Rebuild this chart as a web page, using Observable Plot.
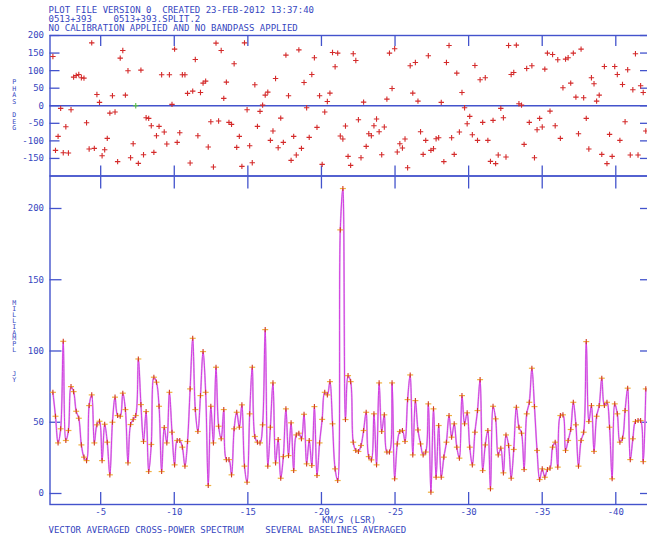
<!DOCTYPE html>
<html><head><meta charset="utf-8">
<script src="https://cdn.jsdelivr.net/npm/d3@7"></script>
<script src="https://cdn.jsdelivr.net/npm/@observablehq/plot@0.6"></script>
<style>
html,body{margin:0;padding:0;background:#fff;overflow:hidden;}
#wrap{position:relative;width:647px;height:538px;overflow:hidden;font-family:"DejaVu Sans Mono",monospace;color:#3646c0;}
.t{position:absolute;font-size:9px;white-space:pre;line-height:9px;}
.v{position:absolute;font-size:6.6px;line-height:8px;white-space:pre;writing-mode:vertical-lr;text-orientation:upright;}
#wrap svg{position:absolute;left:0;}
</style></head><body><div id="wrap"></div>
<script>
// ---- text ----
const headerLines = [
  "PLOT FILE VERSION 0  CREATED 23-FEB-2012 13:37:40",
  "0513+393    0513+393.SPLIT.2",
  "NO CALIBRATION APPLIED AND NO BANDPASS APPLIED"
];
const footerLine = "VECTOR AVERAGED CROSS-POWER SPECTRUM    SEVERAL BASELINES AVERAGED";
const xAxisTitle = "KM/S (LSR)";
const phaseTitle = "PHAS DEG";
const ampTitle = "MILLIAMPL   JY";

// ---- axes ----
const velocityTicks = [-5, -10, -15, -20, -25, -30, -35, -40];
const phaseTicks = [200, 150, 100, 50, 0, -50, -100, -150];
const ampTicks = [0, 50, 100, 150, 200];
const velocityExtent = [-1.556, -42.29];
const phaseExtent = [-200, 200];
const ampExtent = [-7.72, 222.8];

// ---- channels ----
const CHANNEL0_VELOCITY = -1.753;   // km/s of first channel
const CHANNEL_WIDTH = -0.17592;     // km/s per channel

// amplitude per channel (milli-Jy)
const amplitude = [
71.0,54.2,35.5,45.4,106.8,37.2,44.2,75.0,71.5,57.7,
52.8,34.1,25.5,23.1,61.7,69.2,35.5,48.2,50.7,23.1,
48.6,36.0,13.1,50.0,67.6,54.7,54.2,70.4,58.9,21.5,
48.4,51.9,54.7,94.4,62.4,36.5,57.5,15.4,34.4,81.6,
78.1,61.2,15.4,46.3,35.5,71.0,43.0,20.1,37.2,37.2,
32.5,19.2,36.5,73.4,108.9,58.9,43.5,68.7,99.6,71.0,
5.6,61.2,35.5,88.6,47.2,38.4,58.9,23.8,23.8,13.1,
45.4,57.0,46.5,62.2,19.2,7.9,
55.9,88.6,40.0,36.0,35.5,48.2,115.0,19.2,46.5,77.6,
21.5,37.9,10.7,25.9,59.4,26.6,49.6,16.1,41.1,42.3,
38.4,55.6,20.8,37.2,19.6,61.0,12.6,35.5,52.0,71.0,
69.2,78.5,48.9,17.3,9.1,185,214,51.9,82.7,78.5,
36.0,30.2,29.5,33.7,44.2,57.0,25.9,23.6,55.9,20.1,
77.6,43.5,55.2,29.1,29.1,77.6,10.3,34.8,43.5,44.2,
36.5,65.9,83.2,27.1,65.2,44.6,34.8,27.1,29.1,62.9,
0.9,59.4,11.4,47.7,11.4,25.5,
36.0,54.7,39.5,48.9,32.5,24.8,68.7,48.9,56.6,32.5,
20.1,43.0,58.2,79.9,16.1,34.1,44.2,3.3,61.2,52.4,
27.1,31.8,14.5,41.1,33.7,10.7,30.9,60.5,46.5,42.3,
16.8,55.9,64.0,87.9,61.0,30.2,9.8,17.3,11.4,16.8,
17.8,32.5,36.0,18.5,54.7,55.2,30.2,37.2,44.9,64.0,
48.2,19.2,37.2,43.0,106.6,50.5,61.7,29.5,54.2,61.7,
80.9,61.7,64.0,46.5,10.3,62.9,55.9,36.0,38.8,58.2,
73.9,23.8,38.4,50.5,51.2,51.2,22.4,73.4
];

// phase per channel (degrees); 0 = blanked channel
const phase = [
140.3,-127,-87.2,-7.6,-133.6,-59.7,-134.6,-11.4,81.5,86.3,
89.1,79.6,78.7,-48.3,-123.2,179,-121.3,32.2,9.5,-142.2,
-125.1,-92.9,-20.9,28.4,-18.0,-159.2,135.5,157.3,30.3,99.5,
-147.9,-108.1,0,-164.0,101.4,-139.3,-34.1,-36.0,-56.9,-132.7,
-85.3,-58.8,88.2,-74.9,-109.0,88.2,3.8,161.1,-104.3,-76.8,
88.2,88.2,35.1,-163.0,41.7,131.8,-85.3,37.9,64.5,70.1,
-117.5,-45.5,-174.4,178.2,-43.6,157.3,
20.9,67.3,-47.4,-53.1,119.4,-118.5,-87.2,-172.5,179,-11.4,
-113.7,-162.1,59.7,-58.8,-16.1,1.9,30.3,38.9,-98.6,-72.0,
77.7,-119.4,-35.1,-104.3,144.1,28.4,-155.5,-87.2,-140.3,159.2,
-121.3,66.4,-5.7,-90.0,89.1,136.5,-61.6,28.4,-166.8,-18.0,
12.3,36.0,151.7,110.9,149.8,-86.3,-94.8,-57.8,-144.1,-169.7,
147.9,128.9,-39.8,-147.9,10.4,-115.6,-79.6,-85.3,-56.9,-37.9,
-73.9,-139.3,-60.7,19.0,149.8,49.3,162.1,-131.8,-108.1,-120.4,
-94.8,-176.3,113.7,36.0,123.2,13.3,-73.9,
-138.4,-98.6,142.2,-127.0,-122.3,-93.8,-91.0,9.5,-159.2,123.2,
171.6,-91.0,-138.4,92.9,-74.9,37.9,-5.7,-51.2,-30.3,-82.5,
114.7,-98.6,73.9,-47.4,79.6,-98.6,-158.3,-41.7,-164.9,-140.3,
-7.6,-34.1,-146.0,171.6,89.1,94.8,172.5,5.7,1.9,-110.0,
106.2,-47.4,113.7,-147.9,-68.2,-36.0,-60.7,104.3,149.8,-15.2,
146.0,-56.9,130.8,-92.9,51.2,132.7,136.5,64.5,149.8,24.6,
-79.6,161.1,22.7,-36.0,-123.2,79.6,62.6,13.3,30.3,-138.4,
111.8,-164.9,-81.5,-144.1,111.8,89.1,-98.6,60.7,-45.5,102.4,
-140.3,45.5,147.9,-140.3,56.9,37.9,-72.0
];

const rows = amplitude.map((a, i) => ({
  v: CHANNEL0_VELOCITY + i * CHANNEL_WIDTH, amp: a, phase: phase[i]
}));

// ---- styles ----
const AXIS = "#4353cc", TEXT = "#3646c0", RED = "#d42a2a", GREEN = "#58c040";
const svgStyle = {background:"transparent", fontFamily:"DejaVu Sans Mono", fontSize:"9px", maxWidth:"none", overflow:"visible"};
const plusSym = {draw(c, s){ const r = Math.sqrt(s/Math.PI); c.moveTo(-r,0); c.lineTo(r,0); c.moveTo(0,-r); c.lineTo(0,r); }};
const hSym = {draw(c, s){ const r = Math.sqrt(s/Math.PI); c.moveTo(-r,0); c.lineTo(r,0); }};
const vSym = {draw(c, s){ const r = Math.sqrt(s/Math.PI)*0.85; c.moveTo(0,-r); c.lineTo(0,r); }};
const fmt = d => String(d);

const wrap = document.getElementById("wrap");

const topPlot = Plot.plot({
  width: 650, height: 180,
  marginLeft: 49.5, marginRight: 1, marginTop: 35, marginBottom: 4.5,
  x: {domain: velocityExtent, axis: null},
  y: {domain: phaseExtent, axis: null},
  style: svgStyle,
  marks: [
    Plot.frame({stroke: AXIS, strokeWidth: 1.4}),
    Plot.ruleY([0], {stroke: AXIS, strokeWidth: 1.4}),
    Plot.axisX({anchor:"top", ticks: velocityTicks, tickSize: 10, dy: 10, fill:"none", stroke: AXIS, strokeWidth: 1.3, label: null}),
    Plot.axisX({anchor:"bottom", ticks: velocityTicks, tickSize: 10, dy: -10, fill:"none", stroke: AXIS, strokeWidth: 1.3, label: null}),
    Plot.axisY({anchor:"left", ticks: phaseTicks, tickSize: 10, dx: 10, fill:"none", stroke: AXIS, strokeWidth: 1.3, label: null}),
    Plot.axisY({anchor:"right", ticks: phaseTicks, tickSize: 10, dx: -10, fill:"none", stroke: AXIS, strokeWidth: 1.3, label: null}),
    Plot.axisY({anchor:"left", ticks: phaseTicks, tickSize: 0, tickPadding: 6, fill: TEXT, tickFormat: fmt, label: null}),
    Plot.dot(rows.filter(d => d.phase !== 0), {x:"v", y:"phase", r: 2.7, symbol: plusSym, fill:"none", stroke: RED, strokeWidth: 1.1}),
    Plot.dot(rows.filter(d => d.phase === 0), {x:"v", y:"phase", r: 2.7, symbol: plusSym, fill:"none", stroke: GREEN, strokeWidth: 1.1})
  ]
});
topPlot.style.top = "0px";
wrap.appendChild(topPlot);

const botPlot = Plot.plot({
  width: 650, height: 354,
  marginLeft: 49.5, marginRight: 1, marginTop: 5.5, marginBottom: 20,
  x: {domain: velocityExtent, axis: null},
  y: {domain: ampExtent, axis: null},
  style: svgStyle,
  marks: [
    Plot.frame({stroke: AXIS, strokeWidth: 1.4}),
    Plot.axisX({anchor:"top", ticks: velocityTicks, tickSize: 12, dy: 12, fill:"none", stroke: AXIS, strokeWidth: 1.3, label: null}),
    Plot.axisX({anchor:"bottom", ticks: velocityTicks, tickSize: 12, dy: -12, fill:"none", stroke: AXIS, strokeWidth: 1.3, label: null}),
    Plot.axisX({anchor:"bottom", ticks: velocityTicks, tickSize: 0, tickPadding: 4.5, fill: TEXT, tickFormat: fmt, label: null}),
    Plot.axisY({anchor:"left", ticks: ampTicks, tickSize: 12, dx: 12, fill:"none", stroke: AXIS, strokeWidth: 1.3, label: null}),
    Plot.axisY({anchor:"right", ticks: ampTicks, tickSize: 10, dx: -10, fill:"none", stroke: AXIS, strokeWidth: 1.3, label: null}),
    Plot.axisY({anchor:"left", ticks: ampTicks, tickSize: 0, tickPadding: 6, fill: TEXT, tickFormat: fmt, label: null}),
    Plot.line(rows, {x:"v", y:"amp", curve:"catmull-rom", stroke:"#e2b0ec", strokeWidth: 1.8}),
    Plot.line(rows, {x:"v", y:"amp", curve:"catmull-rom", stroke:"#d030e0", strokeWidth: 0.9}),
    Plot.dot(rows, {x:"v", y:"amp", r: 3, symbol: hSym, fill:"none", stroke:"#f0b040", strokeWidth: 1.2}),
    Plot.dot(rows, {x:"v", y:"amp", r: 3, symbol: vSym, fill:"none", stroke:"#d03a22", strokeWidth: 1.1})
  ]
});
botPlot.style.top = "170px";
wrap.appendChild(botPlot);

// ---- html texts ----
function addText(str, left, top) {
  const d = document.createElement("div");
  d.className = "t"; d.textContent = str;
  d.style.left = left + "px"; d.style.top = top + "px";
  wrap.appendChild(d);
}
headerLines.forEach((s, i) => addText(s, 48.5, [5.7, 15.1, 24.4][i]));
addText(xAxisTitle, 322, 516.4);
addText(footerLine, 48.5, 525.9);

function addVertical(str, left, top, spacing) {
  const d = document.createElement("div");
  d.className = "v"; d.textContent = str;
  d.style.left = left + "px"; d.style.top = top + "px";
  d.style.letterSpacing = spacing + "px";
  wrap.appendChild(d);
}
addVertical(phaseTitle, 10.3, 77.5, -1.4);
addVertical(ampTitle, 10.3, 298.7, -2.1);
</script></body></html>
